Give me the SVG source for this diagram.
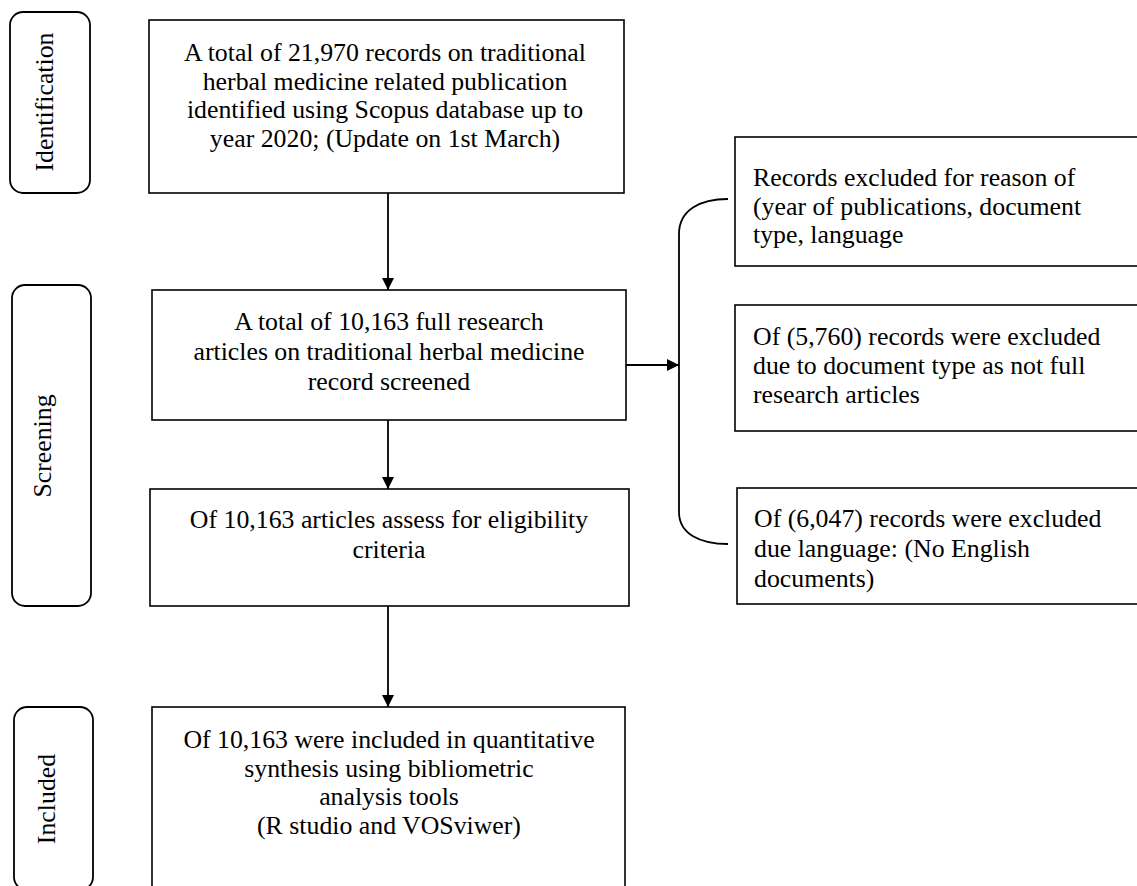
<svg xmlns="http://www.w3.org/2000/svg" width="1137" height="886" viewBox="0 0 1137 886">
<style>
.box{fill:#fff;stroke:#000;stroke-width:1.6}
.pill{fill:#fff;stroke:#000;stroke-width:1.8}
.t{font-family:"Liberation Serif","Times New Roman",serif;font-size:25.8px;fill:#000}
.c{text-anchor:middle}
.ln{fill:none;stroke:#000;stroke-width:1.8}
</style>
<defs>
<marker id="ah" markerWidth="12" markerHeight="12" viewBox="0 0 12 12" refX="12" refY="6" orient="auto" markerUnits="userSpaceOnUse">
<path d="M0,0 L12,6 L0,12 Z" fill="#000"/>
</marker>
</defs>
<rect width="1137" height="886" fill="#fff"/>

<g id="stage-identification">
<rect class="pill" x="10" y="12" width="80" height="181" rx="13"/>
<text class="t c" transform="translate(53,102) rotate(-90)">Identification</text>
</g>
<g id="stage-screening">
<rect class="pill" x="12" y="285" width="79" height="321" rx="13"/>
<text class="t c" transform="translate(51,446) rotate(-90)">Screening</text>
</g>
<g id="stage-included">
<rect class="pill" x="14" y="707" width="79" height="183" rx="13"/>
<text class="t c" transform="translate(55,799) rotate(-90)">Included</text>
</g>

<g id="box-identified">
<rect class="box" x="149" y="20" width="475" height="173"/>
<text class="t c" x="385"><tspan x="385" y="61">A total of 21,970 records on traditional</tspan><tspan x="385" y="89.5">herbal medicine related publication</tspan><tspan x="385" y="118">identified using Scopus database up to</tspan><tspan x="385" y="146.5">year 2020; (Update on 1st March)</tspan></text>
</g>
<g id="box-screened">
<rect class="box" x="152" y="290" width="474" height="130"/>
<text class="t c"><tspan x="389" y="330">A total of 10,163 full research</tspan><tspan x="389" y="360">articles on traditional herbal medicine</tspan><tspan x="389" y="390">record screened</tspan></text>
</g>
<g id="box-eligibility">
<rect class="box" x="150" y="489" width="479" height="117"/>
<text class="t c"><tspan x="389" y="528">Of 10,163 articles assess for eligibility</tspan><tspan x="389" y="558">criteria</tspan></text>
</g>
<g id="box-included">
<rect class="box" x="152" y="707" width="473" height="185"/>
<text class="t c"><tspan x="389" y="748">Of 10,163 were included in quantitative</tspan><tspan x="389" y="776.5">synthesis using bibliometric</tspan><tspan x="389" y="805">analysis tools</tspan><tspan x="389" y="833.5">(R studio and VOSviwer)</tspan></text>
</g>

<g id="box-excluded-reason">
<rect class="box" x="735" y="137" width="410" height="129"/>
<text class="t"><tspan x="753" y="186">Records excluded for reason of</tspan><tspan x="753" y="214.5">(year of publications, document</tspan><tspan x="753" y="243">type, language</tspan></text>
</g>
<g id="box-excluded-type">
<rect class="box" x="735" y="305" width="410" height="126"/>
<text class="t"><tspan x="753" y="345">Of (5,760) records were excluded</tspan><tspan x="753" y="374">due to document type as not full</tspan><tspan x="753" y="403">research articles</tspan></text>
</g>
<g id="box-excluded-language">
<rect class="box" x="737" y="488" width="408" height="116"/>
<text class="t"><tspan x="754" y="527">Of (6,047) records were excluded</tspan><tspan x="754" y="557">due language: (No English</tspan><tspan x="754" y="587">documents)</tspan></text>
</g>

<g id="connectors">
<line class="ln" x1="388" y1="193" x2="388" y2="290" marker-end="url(#ah)"/>
<line class="ln" x1="388" y1="420" x2="388" y2="489" marker-end="url(#ah)"/>
<line class="ln" x1="388" y1="606" x2="388" y2="707" marker-end="url(#ah)"/>
<line class="ln" x1="626" y1="365" x2="679" y2="365" marker-end="url(#ah)"/>
<path class="ln" d="M728,199 C700,199 679,210 679,234 L679,512 C679,534 700,544 728,544"/>
</g>
</svg>
